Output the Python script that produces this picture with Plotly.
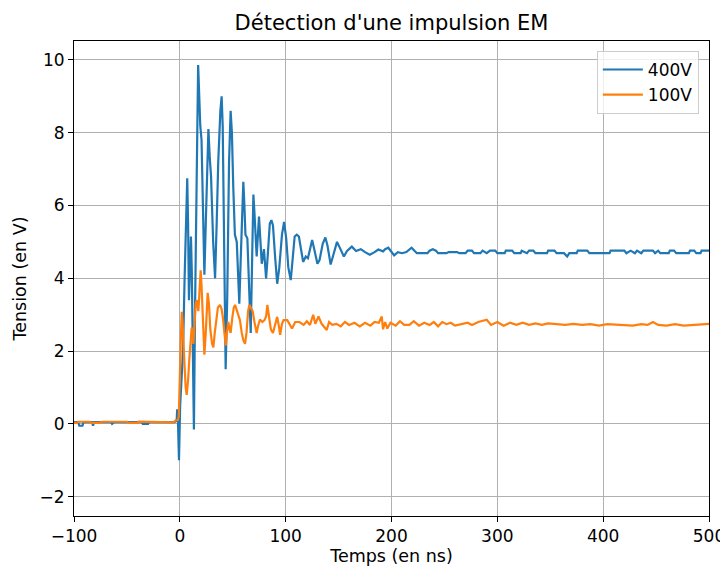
import plotly.graph_objects as go

t_400 = [-100, -96, -95, -92, -91, -83, -82, -81, -65, -64, -62, -36, -35, -30, -29,
         -5, -3, -2.5, -1.8, -0.8, 0.3, 1.5, 3, 4.5, 6, 7, 7.8, 8.6, 9.5, 10.5, 11.3,
         12.3, 13.3, 14.3, 15.5, 16.5, 17.3, 18.1, 19.3, 20.5, 22, 23.2, 24.5, 26, 27,
         28.3, 29.5, 31.5, 33.3, 34.8, 36.3, 38.3, 39.5, 40.5, 42, 43.3, 44.8, 46.5, 48,
         49.2, 50.5, 52, 53.8, 55, 56.2, 57.5, 59, 60, 61, 62, 63.8, 65.5, 67, 68.3,
         69.5, 70.5, 72.6, 74.8, 76, 77.4, 79.5, 81.5, 83, 85, 86.5, 88, 90, 92, 94,
         96.5, 98.5, 100.5, 102.5, 104.8, 106.5, 108.5, 110.5, 112.5, 114.5, 116.5, 119,
         121, 123, 125, 127, 130, 132, 135, 137.5, 139.5, 142.5, 145.5, 148.5, 151, 155,
         158, 162.5, 166.5, 171, 175, 179.5, 184, 187.5, 192, 194,
         197, 202.5, 206, 210, 214, 217, 219, 221, 224, 234, 236, 239, 242, 244, 252,
         254, 262, 264, 270, 272, 276, 278, 284, 286, 290, 293, 298, 300, 307, 308,
         314, 316, 322, 323, 328, 330, 334, 336, 347, 348, 354, 356, 363, 366, 368,
         375, 376, 385, 387, 406, 407, 420, 422, 426, 430, 432, 436, 438, 447, 449,
         452, 454, 462, 463, 467, 469, 481, 482, 486, 488, 492, 493, 500]
v_400 = [0.05, 0.05, -0.05, -0.05, 0.05, 0.05, -0.05, 0.05, 0.05, 0.0, 0.05, 0.05, 0.0, 0.0, 0.05,
         0.05, 0.1, 0.4, 0.1, -1.0, 0.5, 1.4, 2.0, 4.0, 6.0, 6.75, 5.5, 3.4, 4.2, 5.15, 4.2,
         1.5, -0.15, 3.0, 6.5, 9.2, 9.86, 9.2, 8.2, 7.8, 5.5, 4.1, 5.5, 7.6, 8.1,
         7.3, 6.8, 5.0, 4.0, 5.5, 7.2, 8.6, 9.0, 8.2, 4.5, 1.5, 3.5, 7.2, 8.6,
         8.0, 6.5, 5.2, 5.0, 4.2, 3.3, 4.5, 6.2, 6.65, 6.0, 5.2, 5.1, 3.5, 2.5, 4.5,
         6.3, 5.8, 4.6, 5.7, 5.2, 4.4, 4.8, 4.0, 4.6, 5.5, 5.6, 5.45, 4.6, 3.85, 4.3,
         5.2, 5.55, 5.1, 4.3, 3.95, 4.5, 5.15, 5.2, 5.15, 4.8, 4.45, 4.6,
         4.55, 4.8, 5.05, 4.8, 4.4, 4.5, 4.95, 5.12, 4.9, 4.38, 4.7, 5.0, 4.85, 4.6,
         4.75, 4.87, 4.75, 4.8, 4.72, 4.65, 4.72, 4.79, 4.74, 4.8,
         4.84, 4.63, 4.72, 4.69, 4.72, 4.78, 4.84, 4.78, 4.69, 4.69, 4.76, 4.8, 4.76, 4.69, 4.69,
         4.72, 4.72, 4.69, 4.69, 4.76, 4.76, 4.69, 4.69, 4.76, 4.69, 4.76, 4.76, 4.69, 4.69, 4.76,
         4.76, 4.69, 4.69, 4.76, 4.69, 4.76, 4.76, 4.69, 4.69, 4.76, 4.76, 4.69, 4.69, 4.6, 4.69,
         4.69, 4.76, 4.76, 4.69, 4.69, 4.76, 4.76, 4.69, 4.76, 4.69, 4.76, 4.69, 4.76, 4.76, 4.69,
         4.76, 4.69, 4.69, 4.76, 4.76, 4.69, 4.69, 4.76, 4.76, 4.69, 4.69, 4.76, 4.76]

# signal 100V
t_100 = [-100, -97, -96, -85, -84, -75, -74, -50, -49, -40, -39, -15, -14, -6, -4, -2, -1,
         0, 0.8, 1.8, 2.6, 3.3, 4.5, 5.5, 6.5, 7.8, 9, 10.2, 11.2, 12.8, 13.8, 15, 16,
         17.5, 18.5, 19.7, 20.5, 21.5, 23.2, 24.5, 25.5, 26.3, 27.5, 28.8, 30.5, 31.7,
         33, 34.5, 36, 38, 39.5, 40.8, 42, 43.3, 44.5, 45.8, 47, 48, 49.5, 51, 52.2,
         53.5, 55, 56.8, 58.5, 60, 61.6, 63, 64.5, 65.7, 67, 68.8, 70.5, 72.6, 74,
         75.7, 78, 80, 81.5, 82.7, 84, 86, 88, 90, 92, 93.5, 94.8, 96.5, 98, 101.5,
         106, 109, 113, 117, 120, 123,
         126, 128, 131, 134, 138.8, 141, 144, 148, 152, 156, 160, 165, 170, 175, 180,
         184, 188, 190.8, 192, 194, 196, 199, 204, 208, 212, 217, 221, 226, 231, 236,
         240, 244, 248, 252, 256, 260, 266, 272, 276, 282, 290, 294, 300, 306, 312,
         318, 324, 330, 336, 342, 348, 356, 364, 372, 380, 388, 396, 404, 412, 420,
         428, 436, 442, 447, 452, 460, 468, 476, 484, 492, 500]
v_100 = [0.03, 0.03, 0.06, 0.06, 0.03, 0.03, 0.06, 0.06, 0.03, 0.03, 0.06, 0.06, 0.04, 0.04, 0.1, 0.1, 0.2,
         1.0, 2.2, 3.08, 2.8, 2.3, 1.5, 1.0, 0.8, 1.2, 1.8, 2.3, 2.65, 2.2, 2.6, 3.3, 3.4,
         3.1, 3.6, 4.22, 3.8, 3.0, 1.9, 2.5, 3.3, 3.6, 3.3, 2.6, 2.2, 2.1,
         2.5, 2.95, 3.2, 3.27, 3.15, 2.9, 2.4, 2.15, 2.5, 2.8, 2.6, 2.5, 2.9, 3.2, 3.27,
         3.15, 2.95, 2.85, 2.5, 2.3, 2.2, 2.5, 3.1, 3.27, 3.2, 3.1, 2.8, 2.5, 2.7,
         2.87, 2.8, 2.85, 2.95, 3.27, 3.0, 2.6, 2.5, 2.75, 2.94, 2.7, 2.45, 2.75, 2.85, 2.85,
         2.62, 2.8, 2.8, 2.72, 2.82, 2.72,
         3.0, 2.75, 2.95, 2.75, 2.58, 2.8, 2.72, 2.75, 2.68, 2.8, 2.72, 2.78, 2.68, 2.78, 2.7,
         2.8, 2.78, 2.95, 2.6, 2.8, 2.62, 2.78, 2.7, 2.82, 2.72, 2.72, 2.82, 2.7, 2.78, 2.72,
         2.8, 2.68, 2.8, 2.74, 2.78, 2.7, 2.74, 2.78, 2.72, 2.8, 2.86, 2.72, 2.8, 2.7, 2.78,
         2.72, 2.78, 2.72, 2.76, 2.72, 2.76, 2.74, 2.72, 2.75, 2.72, 2.74, 2.7, 2.74, 2.72, 2.72,
         2.7, 2.74, 2.72, 2.8, 2.72, 2.7, 2.74, 2.7, 2.72, 2.74, 2.75]

fig = go.Figure()
fig.add_trace(go.Scatter(x=t_400, y=v_400, mode='lines', name='400V',
                         line=dict(color='#1f77b4', width=2.2)))
fig.add_trace(go.Scatter(x=t_100, y=v_100, mode='lines', name='100V',
                         line=dict(color='#ff7f0e', width=2.2)))

axis_style = dict(showline=True, mirror=True, linecolor='black', linewidth=1,
                  ticks='outside', ticklen=5, tickcolor='black', tickwidth=1,
                  showgrid=True, gridcolor='#b0b0b0', gridwidth=1, zeroline=False,
                  automargin=False, tickfont=dict(size=17, color='black'))

# la page html a une marge de 8px, on la compense dans les marges de la figure
fig.update_layout(
    width=728, height=571,
    margin=dict(l=66, r=27, t=33, b=63),
    paper_bgcolor='white', plot_bgcolor='white',
    font=dict(family='DejaVu Sans', color='black'),
    title=dict(text="Détection d'une impulsion EM", xref='paper', x=0.5, xanchor='center',
               yref='container', y=0.975, yanchor='middle', font=dict(size=21)),
    xaxis=dict(range=[-100, 500], tickvals=[-100, 0, 100, 200, 300, 400, 500],
               ticktext=['\u2212100', '0', '100', '200', '300', '400', '500'],
               title=dict(text='Temps (en ns)', font=dict(size=17.5), standoff=4),
               **axis_style),
    yaxis=dict(range=[-2.53, 10.52], tickvals=[-2, 0, 2, 4, 6, 8, 10],
               ticktext=['\u22122', '0', '2', '4', '6', '8', '10'],
               title=dict(text='Tension (en V)', font=dict(size=17.5), standoff=8),
               **axis_style),
    legend=dict(x=0.984, y=0.979, xanchor='right', yanchor='top',
                bgcolor='rgba(255,255,255,0.8)', bordercolor='#cccccc', borderwidth=1,
                font=dict(size=17), tracegroupgap=0, itemwidth=40),
    showlegend=True,
)

fig.write_html("out.html")
